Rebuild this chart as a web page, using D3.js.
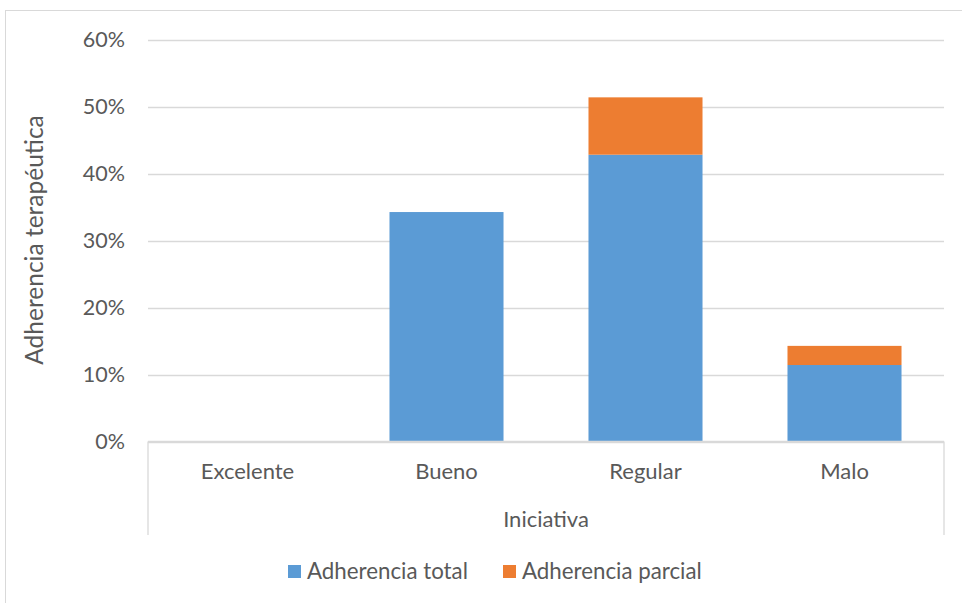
<!DOCTYPE html>
<html><head><meta charset="utf-8">
<script src="https://cdn.jsdelivr.net/npm/d3@7"></script>
<style>body{margin:0;background:#fff}svg{display:block}</style>
</head><body>
<svg id="c" width="962" height="603"></svg>
<script>
const categories = ["Excelente", "Bueno", "Regular", "Malo"];
const seriesNames = ["Adherencia total", "Adherencia parcial"];
const adherenciaTotal = [0, 0.3429, 0.4286, 0.1143];
const adherenciaParcial = [0, 0, 0.0857, 0.0286];
const yTicks = [0, 0.1, 0.2, 0.3, 0.4, 0.5, 0.6];
const colors = ["#5b9bd5", "#ed7d31"];

(function () {
const svg = d3.select("#c");
const font = "Lato, 'Open Sans', sans-serif";
const textColor = "#595959";
const pLeft = 148, pRight = 944, pTop = 40, pBottom = 441.5;

svg.append("rect").attr("x", 5.5).attr("y", 10.5).attr("width", 960).attr("height", 600)
  .attr("fill", "#fff").attr("stroke", "#d9d9d9");

const x = d3.scaleBand().domain(categories).range([pLeft, pRight]).paddingInner(0.427).paddingOuter(0.2135);
const y = d3.scaleLinear().domain([0, 0.6]).range([pBottom, pTop]);

// gridlines
svg.append("g").selectAll("line").data(yTicks).join("line")
  .attr("x1", pLeft).attr("x2", pRight)
  .attr("y1", d => Math.round(y(d)) + 0.5).attr("y2", d => Math.round(y(d)) + 0.5)
  .attr("stroke", "#d9d9d9").attr("stroke-width", 1.3);

// y axis labels
const yAxis = d3.axisLeft(y).tickValues(yTicks).tickFormat(d3.format(".0%")).tickSize(0).tickPadding(23);
const ya = svg.append("g").attr("transform", `translate(${pLeft},0)`).call(yAxis);
ya.select(".domain").remove();
ya.selectAll("text").attr("font-family", font).attr("font-size", 21.5).attr("fill", textColor);

// stacked bars
const data = categories.map((c, i) => ({cat: c, total: adherenciaTotal[i], parcial: adherenciaParcial[i]}));
const stack = d3.stack().keys(["total", "parcial"])(data);
svg.append("g").selectAll("g").data(stack).join("g").attr("fill", (d, i) => colors[i])
  .selectAll("rect").data(d => d).join("rect")
  .attr("x", d => x(d.data.cat)).attr("width", x.bandwidth())
  .attr("y", d => y(d[1])).attr("height", d => y(d[0]) - y(d[1]));

// category axis lines
svg.append("line").attr("x1", pLeft).attr("x2", pRight).attr("y1", pBottom).attr("y2", pBottom)
  .attr("stroke", "#d9d9d9").attr("stroke-width", 1.3);
[pLeft, pRight].forEach(xx => svg.append("line").attr("x1", xx).attr("x2", xx)
  .attr("y1", pBottom).attr("y2", 535).attr("stroke", "#d9d9d9").attr("stroke-width", 1.3));

const xAxis = d3.axisBottom(x).tickSize(0).tickPadding(22);
const xa = svg.append("g").attr("transform", `translate(0,${pBottom})`).call(xAxis);
xa.select(".domain").remove();
xa.selectAll("text").attr("font-family", font).attr("font-size", 22).attr("fill", textColor);

// axis titles
svg.append("text").attr("x", (pLeft + pRight) / 2).attr("y", 527).attr("text-anchor", "middle")
  .attr("font-family", font).attr("font-size", 22).attr("fill", textColor).text("Iniciativa");
svg.append("text").attr("transform", "translate(43,240) rotate(-90)").attr("text-anchor", "middle")
  .attr("font-family", font).attr("font-size", 24.5).attr("fill", textColor).text("Adherencia terapéutica");

// legend
const legX = [288, 503];
const lg = svg.append("g").selectAll("g").data(seriesNames).join("g")
  .attr("transform", (d, i) => `translate(${legX[i]},565)`);
lg.append("rect").attr("width", 13).attr("height", 13).attr("fill", (d, i) => colors[i]);
lg.append("text").attr("x", 19).attr("y", 14).attr("font-family", font).attr("font-size", 22.3)
  .attr("fill", textColor).text(d => d);
})();
</script>
</body></html>
